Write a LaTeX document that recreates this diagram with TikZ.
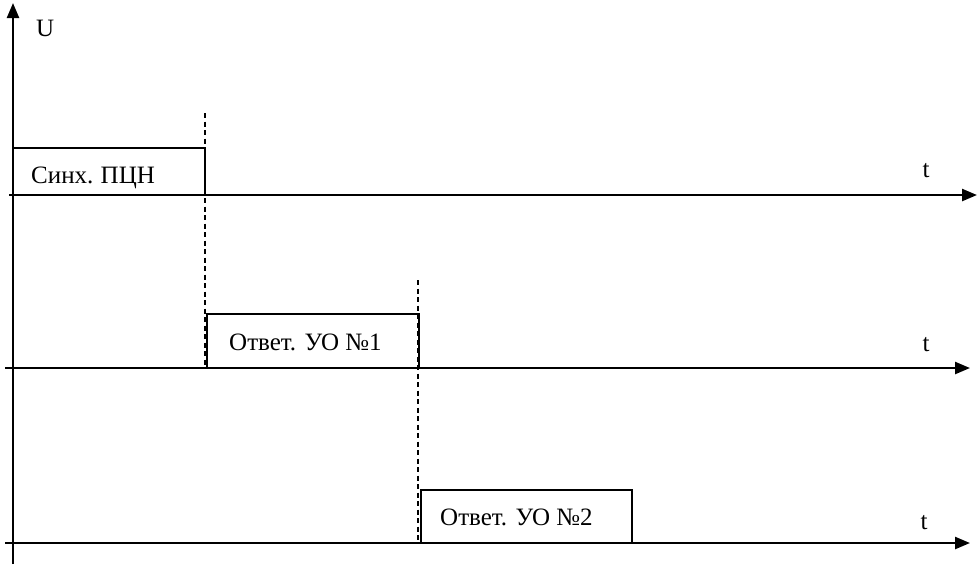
\documentclass[tikz,border=0pt]{standalone}
\usepackage{fontspec}
\setmainfont{Liberation Serif}
\usetikzlibrary{arrows.meta}
\begin{document}
\begin{tikzpicture}[x=1pt,y=-1pt,
  axis/.style={line width=2.4pt,-{Triangle[length=15pt,width=12pt]}},
  pulse/.style={draw,line width=2.2pt},
  guide/.style={line width=2.2pt,dash pattern=on 5pt off 3.5pt},
  lbl/.style={font=\fontsize{25}{29}\selectfont,inner sep=0pt},
  tl/.style={font=\fontsize{25}{29}\selectfont,inner sep=0pt}]
\useasboundingbox (0,0) rectangle (980,565);
\fill[white] (0,0) rectangle (980,565);
% axes
\coordinate (vb) at (13,564);
\coordinate (vt) at (13,3);
\draw[axis] (vb) -- (vt);
\coordinate (a1s) at (9,195);  \coordinate (a1e) at (977,195);
\coordinate (a2s) at (5,368);  \coordinate (a2e) at (970,368);
\coordinate (a3s) at (5,543);  \coordinate (a3e) at (970,543);
\draw[axis] (a1s) -- (a1e);
\draw[axis] (a2s) -- (a2e);
\draw[axis] (a3s) -- (a3e);
\node[lbl,anchor=base west] (U) at (36,36) {U};
\node[tl,anchor=base] (t1) at (926,177) {t};
\node[tl,anchor=base] (t2) at (926,351) {t};
\node[tl,anchor=base] (t3) at (924,529) {t};
% dashed guides
\coordinate (g1t) at (205,113); \coordinate (g1b) at (205,368);
\coordinate (g2t) at (418,280); \coordinate (g2b) at (418,543);
\draw[guide] (g1t) -- (g1b);
\draw[guide] (g2t) -- (g2b);
% pulses
\draw[pulse] (13,195) -- (13,148) -- (205,148) -- (205,195);
\draw[pulse] (207,368) -- (207,314) -- (419,314) -- (419,368);
\draw[pulse] (421,543) -- (421,490) -- (632,490) -- (632,543);
\node[lbl,anchor=base west] (p1) at (31,183) {Синх.\hspace{-1pt} ПЦН};
\node[lbl,anchor=base west] (p2) at (229,350) {Ответ. УО №1};
\node[lbl,anchor=base west] (p3) at (440,525) {Ответ. УО №2};
\end{tikzpicture}
\end{document}
